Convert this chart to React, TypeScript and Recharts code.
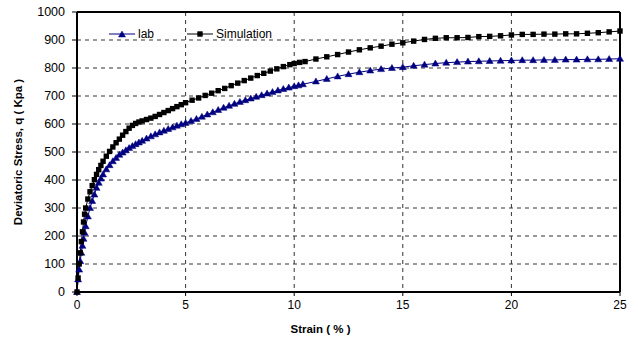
import React from 'react'
import { LineChart, Line, XAxis, YAxis, CartesianGrid, ReferenceLine } from 'recharts'

// lab test readings (strain %, deviatoric stress kPa)
const labStrain = [
  0, 0.05, 0.1, 0.15, 0.2, 0.25, 0.3, 0.35, 0.4, 0.5, 0.6, 0.7, 0.8, 0.9, 1.0, 1.1, 1.2, 1.35, 1.5, 1.65,
  1.8, 1.95, 2.1, 2.25, 2.4, 2.55, 2.7, 2.85, 3.0, 3.2, 3.4, 3.6, 3.8, 4.0, 4.2, 4.4, 4.6, 4.8, 5.0, 5.25,
  5.5, 5.75, 6.0, 6.25, 6.5, 6.75, 7.0, 7.25, 7.5, 7.75, 8.0, 8.25, 8.5, 8.75, 9.0, 9.25, 9.5, 9.75, 10.0, 10.2,
  10.4, 11.0, 11.5, 12.0, 12.5, 13.0, 13.5, 14.0, 14.5, 15.0, 15.5, 16.0, 16.5, 17.0, 17.5, 18.0, 18.5, 19.0, 19.5, 20.0,
  20.5, 21.0, 21.5, 22.0, 22.5, 23.0, 23.5, 24.0, 24.5, 25.0,
]
const labStress = [
  0, 45, 80, 110, 140, 165, 190, 212, 235, 270, 300, 325, 348, 372, 390, 405, 420, 438, 453, 467,
  479, 490, 498, 506, 514, 521, 528, 534, 540, 548, 556, 563, 570, 576, 582, 588, 594, 599, 604, 611,
  618, 626, 634, 642, 650, 658, 665, 672, 679, 685, 691, 697, 703, 709, 714, 720, 725, 730, 735, 738,
  742, 752, 761, 770, 778, 785, 791, 796, 800, 803, 808, 812, 816, 819, 821, 823, 824, 825, 826, 827,
  828, 828, 829, 829, 830, 830, 831, 831, 832, 833,
]

// simulation output
const simStrain = [
  0, 0.05, 0.1, 0.15, 0.2, 0.25, 0.3, 0.35, 0.4, 0.5, 0.6, 0.7, 0.8, 0.9, 1.0, 1.1, 1.2, 1.35, 1.5, 1.65,
  1.8, 1.95, 2.1, 2.25, 2.4, 2.55, 2.7, 2.85, 3.0, 3.2, 3.4, 3.6, 3.8, 4.0, 4.2, 4.4, 4.6, 4.8, 5.0, 5.3,
  5.6, 5.9, 6.2, 6.5, 6.8, 7.1, 7.4, 7.7, 8.0, 8.3, 8.6, 8.9, 9.2, 9.5, 9.8, 10.0, 10.25, 10.5, 11.0, 11.5,
  12.0, 12.5, 13.0, 13.5, 14.0, 14.5, 15.0, 15.5, 16.0, 16.5, 17.0, 17.5, 18.0, 18.5, 19.0, 19.5, 20.0, 20.5, 21.0, 21.5,
  22.0, 22.5, 23.0, 23.5, 24.0, 24.5, 25.0,
]
const simStress = [
  0, 50, 100, 140, 180, 215, 250, 278, 300, 332, 358, 380, 401, 420, 437, 452, 467, 485, 502, 518,
  533, 546, 560, 573, 585, 595, 602, 607, 611, 616, 621, 627, 634, 641, 648, 655, 662, 669, 676, 685,
  693, 702, 710, 719, 727, 737, 746, 755, 764, 773, 781, 789, 797, 805, 812, 816, 820, 823, 832, 840,
  848, 857, 865, 872, 878, 885, 890, 896, 902, 906, 908, 908, 909, 912, 913, 915, 918, 920, 920, 921,
  921, 922, 922, 924, 926, 929, 932,
]

const xTicks = [0, 5, 10, 15, 20, 25]
const yTicks = [0, 100, 200, 300, 400, 500, 600, 700, 800, 900, 1000]

const labData = labStrain.map((s, i) => ({ strain: s, q: labStress[i] }))
const simData = simStrain.map((s, i) => ({ strain: s, q: simStress[i] }))

const LAB_COLOR = '#000080'
const SIM_COLOR = '#000000'

const triangle = (cx: number, cy: number, color: string, key?: string) => (
  <path
    key={key}
    d={`M${cx},${cy - 3.5}L${cx + 3.5},${cy + 2.5}L${cx - 3.5},${cy + 2.5}Z`}
    fill={color}
    stroke={color}
    strokeWidth={0.5}
  />
)

const square = (cx: number, cy: number, color: string, key?: string) => (
  <rect key={key} x={cx - 2.7} y={cy - 2.7} width={5.4} height={5.4} fill={color} />
)

const ChartLegend = () => (
  <div
    style={{
      position: 'absolute',
      left: 109,
      top: 27,
      display: 'flex',
      alignItems: 'center',
      fontSize: 12,
      lineHeight: '14px',
      color: '#000',
    }}
  >
    <svg width={26} height={10}>
      <line x1={0} y1={5} x2={26} y2={5} stroke={LAB_COLOR} strokeWidth={1} />
      {triangle(13, 5.5, LAB_COLOR)}
    </svg>
    <span style={{ marginLeft: 3, marginRight: 33 }}>lab</span>
    <svg width={26} height={10}>
      <line x1={0} y1={5} x2={26} y2={5} stroke={SIM_COLOR} strokeWidth={1} />
      {square(13, 5, SIM_COLOR)}
    </svg>
    <span style={{ marginLeft: 3 }}>Simulation</span>
  </div>
)

const App: React.FC = () => {
  return (
    <div
      style={{
        position: 'absolute',
        left: 0,
        top: 0,
        width: 638,
        height: 347,
        background: '#fff',
        fontFamily: '"Liberation Sans", Arial, sans-serif',
      }}
    >
      <LineChart width={638} height={347} margin={{ top: 12, right: 18, bottom: 0, left: 0 }}>
        <CartesianGrid stroke="#333" strokeDasharray="4 4" />
        <XAxis
          type="number"
          dataKey="strain"
          domain={[0, 25]}
          ticks={xTicks}
          interval={0}
          height={55}
          axisLine={{ stroke: '#000', strokeWidth: 2 }}
          tickLine={{ stroke: '#000' }}
          tickSize={4}
          tickMargin={4}
          tick={{ fill: '#000', fontSize: 12 }}
          label={{
            value: 'Strain ( % )',
            position: 'insideBottom',
            offset: 14,
            dx: -28,
            style: { fontWeight: 'bold', fontSize: 11.5, fill: '#000' },
          }}
        />
        <YAxis
          type="number"
          domain={[0, 1000]}
          ticks={yTicks}
          interval={0}
          width={77}
          axisLine={{ stroke: '#000', strokeWidth: 2 }}
          tickLine={{ stroke: '#000' }}
          tickSize={5}
          tickMargin={7}
          tick={{ fill: '#000', fontSize: 12.5 }}
          label={{
            value: 'Deviatoric Stress, q ( Kpa )',
            angle: -90,
            position: 'insideLeft',
            offset: 18,
            style: { textAnchor: 'middle', fontWeight: 'bold', fontSize: 11.5, fill: '#000' },
          }}
        />
        <ReferenceLine y={1000} stroke="#000" strokeWidth={2} />
        <ReferenceLine x={25} stroke="#000" strokeWidth={2} />
        <Line
          data={labData}
          dataKey="q"
          name="lab"
          type="linear"
          stroke={LAB_COLOR}
          strokeWidth={1}
          dot={(p: any) => triangle(p.cx, p.cy, LAB_COLOR, `lab-${p.index}`)}
          activeDot={false}
          isAnimationActive={false}
        />
        <Line
          data={simData}
          dataKey="q"
          name="Simulation"
          type="linear"
          stroke={SIM_COLOR}
          strokeWidth={1}
          dot={(p: any) => square(p.cx, p.cy, SIM_COLOR, `sim-${p.index}`)}
          activeDot={false}
          isAnimationActive={false}
        />
      </LineChart>
      <ChartLegend />
    </div>
  )
}

export default App
